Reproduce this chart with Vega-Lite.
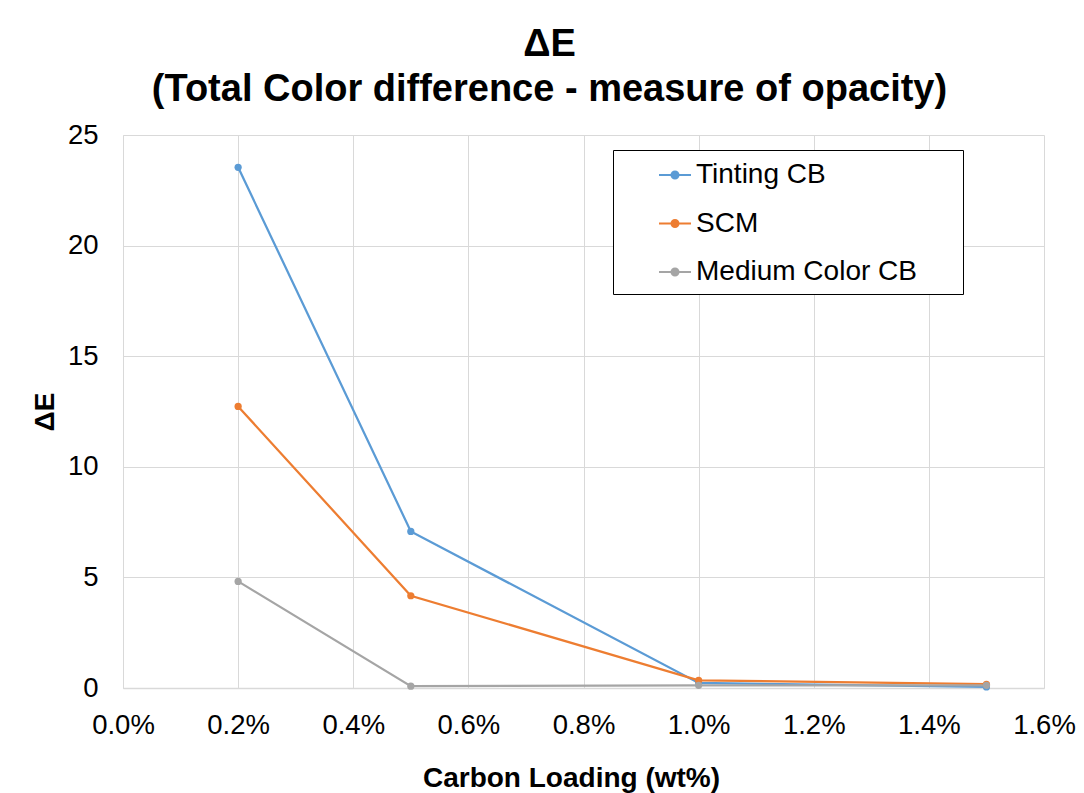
{
  "$schema": "https://vega.github.io/schema/vega-lite/v6.json",
  "width": 921,
  "height": 553,
  "autosize": {"type": "none"},
  "padding": {"left": 123, "top": 135, "right": 40, "bottom": 105},
  "background": "white",
  "config": {
    "font": "Liberation Sans",
    "view": {"stroke": null}
  },
  "title": {
    "text": ["ΔE", "(Total Color difference - measure of opacity)"],
    "fontSize": 38,
    "fontWeight": "bold",
    "font": "Liberation Sans",
    "color": "#000000",
    "lineHeight": 45,
    "anchor": "middle",
    "frame": "group",
    "dx": -34,
    "offset": 12
  },
  "data": {
    "values": [
      {"loading": 0.002, "dE": 23.54, "series": "Tinting CB"},
      {"loading": 0.005, "dE": 7.08, "series": "Tinting CB"},
      {"loading": 0.010, "dE": 0.23, "series": "Tinting CB"},
      {"loading": 0.015, "dE": 0.05, "series": "Tinting CB"},
      {"loading": 0.002, "dE": 12.73, "series": "SCM"},
      {"loading": 0.005, "dE": 4.17, "series": "SCM"},
      {"loading": 0.010, "dE": 0.35, "series": "SCM"},
      {"loading": 0.015, "dE": 0.17, "series": "SCM"},
      {"loading": 0.002, "dE": 4.82, "series": "Medium Color CB"},
      {"loading": 0.005, "dE": 0.08, "series": "Medium Color CB"},
      {"loading": 0.010, "dE": 0.12, "series": "Medium Color CB"},
      {"loading": 0.015, "dE": 0.12, "series": "Medium Color CB"}
    ]
  },
  "mark": {
    "type": "line",
    "strokeWidth": 2.25,
    "point": {"filled": true, "size": 52}
  },
  "encoding": {
    "x": {
      "field": "loading",
      "type": "quantitative",
      "scale": {"domain": [0, 0.016], "nice": false},
      "axis": {
        "values": [0, 0.002, 0.004, 0.006, 0.008, 0.010, 0.012, 0.014, 0.016],
        "format": ".1%",
        "title": "Carbon Loading (wt%)",
        "titleFontSize": 28,
        "titleFontWeight": "bold",
        "titleColor": "#000000",
        "titlePadding": 26,
        "titleX": 448,
        "labelFontSize": 27.5,
        "labelColor": "#000000",
        "labelPadding": 23,
        "labelFlush": false,
        "ticks": false,
        "grid": true,
        "gridColor": "#D9D9D9",
        "gridWidth": 1,
        "domainColor": "#D9D9D9",
        "domainWidth": 1.5
      }
    },
    "y": {
      "field": "dE",
      "type": "quantitative",
      "scale": {"domain": [0, 25], "nice": false},
      "axis": {
        "values": [0, 5, 10, 15, 20, 25],
        "title": "ΔE",
        "titleFontSize": 28,
        "titleFontWeight": "bold",
        "titleColor": "#000000",
        "titlePadding": 8,
        "labelFontSize": 27.5,
        "labelColor": "#000000",
        "labelPadding": 25,
        "labelFlush": false,
        "ticks": false,
        "grid": true,
        "gridColor": "#D9D9D9",
        "gridWidth": 1,
        "domainColor": "#D9D9D9",
        "domainWidth": 1
      }
    },
    "color": {
      "field": "series",
      "type": "nominal",
      "scale": {
        "domain": ["Tinting CB", "SCM", "Medium Color CB"],
        "range": ["#5B9BD5", "#ED7D31", "#A5A5A5"]
      },
      "legend": {
        "title": "\u00a0",
        "titleOrient": "right",
        "titlePadding": 38,
        "titleFontSize": 10,
        "orient": "none",
        "legendX": 490,
        "legendY": 15,
        "strokeColor": "#000000",
        "fillColor": "#FFFFFF",
        "padding": 8,
        "symbolType": "M-1,0L1,0M-0.22,0A0.22,0.22 0 1 1 0.22,0A0.22,0.22 0 1 1 -0.22,0Z",
        "symbolSize": 1024,
        "symbolStrokeWidth": 2,
        "symbolOffset": 37,
        "labelOffset": 4,
        "labelFontSize": 28,
        "labelColor": "#000000",
        "labelLimit": 400,
        "rowPadding": 17.5,
        "encode": {
          "symbols": {
            "update": {
              "fill": {"scale": "color", "field": "value"},
              "fillOpacity": {"value": 1}
            }
          }
        }
      }
    }
  }
}
